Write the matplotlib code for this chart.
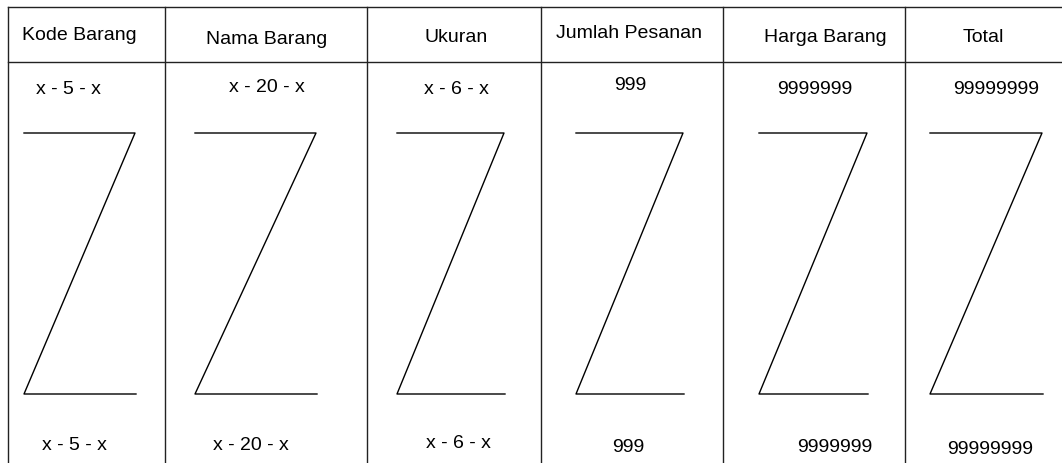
import matplotlib.pyplot as plt

plt.rcParams['font.family'] = ['Liberation Sans', 'DejaVu Sans']

headers = ['Kode Barang', 'Nama Barang', 'Ukuran', 'Jumlah Pesanan', 'Harga Barang', 'Total']
top_values = ['x - 5 - x', 'x - 20 - x', 'x - 6 - x', '999', '9999999', '99999999']
bottom_values = ['x - 5 - x', 'x - 20 - x', 'x - 6 - x', '999', '9999999', '99999999']

# layout in pixel units (y grows downward)
W, H = 1062, 463
col_edges = [8, 165, 367, 541, 723, 905, W]
top_y, head_y = 7, 62
header_pos = [(79, 35), (267, 39), (456, 37), (629, 34), (825, 38), (983, 38)]
top_pos = [(68, 89), (267, 87), (456, 90), (630, 86), (815, 89), (996, 89)]
bottom_pos = [(74, 445), (251, 445), (458, 443), (628, 447), (835, 447), (990, 449)]
z_left = [24, 195, 397, 576, 759, 930]
z_right = [135, 316, 504, 683, 867, 1042]
z_top, z_bottom = 133, 394

fig = plt.figure(figsize=(W / 100, H / 100), dpi=100)
ax = fig.add_axes([0, 0, 1, 1])
ax.set_xlim(0, W)
ax.set_ylim(H, 0)
ax.axis('off')

line_kw = dict(color='#222222', lw=1.0)

# table grid
ax.plot([col_edges[0], W], [top_y, top_y], **line_kw)
ax.plot([col_edges[0], W], [head_y, head_y], **line_kw)
for x in col_edges[:-1]:
    ax.plot([x, x], [top_y, H], **line_kw)

# Z marks in each column
for zl, zr in zip(z_left, z_right):
    ax.plot([zl, zr, zl, zr + 1], [z_top, z_top, z_bottom, z_bottom], color='black', lw=1.0)

for i in range(len(headers)):
    ax.text(*header_pos[i], headers[i], ha='center', va='center', fontsize=14)
    ax.text(*top_pos[i], top_values[i], ha='center', va='center', fontsize=14)
    ax.text(*bottom_pos[i], bottom_values[i], ha='center', va='center', fontsize=14)

fig.savefig('out.png', dpi=100, facecolor='white')
